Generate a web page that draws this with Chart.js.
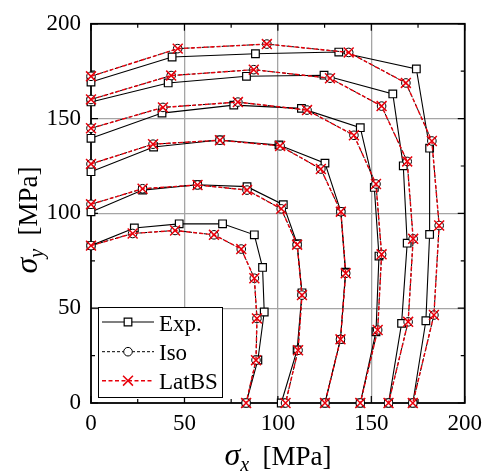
<!DOCTYPE html>
<html>
<head>
<meta charset="utf-8">
<script src="https://cdn.jsdelivr.net/npm/chart.js@4/dist/chart.umd.min.js"></script>
<style>
  html, body { margin: 0; padding: 0; background: #fff; }
  #wrap { width: 489px; height: 474px; }
</style>
</head>
<body>
<div id="wrap"><canvas id="chart" width="489" height="474"></canvas></div>
<script>
// axis ticks (minor every 25, labels every 50)
const xTicks = [0, 25, 50, 75, 100, 125, 150, 175, 200];
const yTicks = [0, 25, 50, 75, 100, 125, 150, 175, 200];
const tickLabels = ['0', '50', '100', '150', '200'];
const seriesNames = ['Exp.', 'Iso', 'LatBS'];

// six yield contours, each as [sigma_x, sigma_y] pairs (MPa)
const expData = [
  [[0, 83], [23.2, 92.3], [47.2, 94.5], [70.4, 94.5], [87.4, 88.7], [91.8, 71.5], [92.7, 48], [89.3, 22.7], [83, 0]],
  [[0, 100.8], [27.6, 112.3], [57, 115.1], [83.5, 114.1], [102.9, 104.6], [110.3, 84], [112.9, 58.1], [110.3, 28], [101.8, 0]],
  [[0, 122], [33.5, 135], [69, 138.7], [100.6, 136.1], [125.2, 126.5], [133.7, 100.9], [136.2, 69], [133.5, 33.6], [125.2, 0]],
  [[0, 139.6], [38, 152.9], [76.4, 157.1], [112.6, 155.4], [144.1, 145.2], [151.6, 113.7], [154.1, 77.5], [152.5, 37.6], [144.1, 0]],
  [[0, 158.8], [41.3, 168.8], [83.2, 172.3], [124.7, 172.9], [161.5, 163], [167.1, 125.1], [169.2, 84.3], [166.2, 42], [159.2, 0]],
  [[0, 169.3], [43.4, 182.5], [88, 184.2], [132.6, 185.1], [174.1, 176.2], [181.2, 134.4], [181.2, 88.9], [179.2, 43.4], [172.2, 0]]
];
const isoData = [
  [[0, 83], [22.3, 89.4], [45, 91], [65.8, 88.7], [80.4, 81.2], [87.4, 65.8], [88.8, 44.6], [88.3, 22.6], [83, 0]],
  [[0, 104.8], [27.6, 113], [57, 115], [83.5, 112.3], [101.8, 102.4], [110.3, 83.5], [112.9, 56.9], [110.8, 27.8], [104.1, 0]],
  [[0, 126.1], [33.2, 136.5], [69, 138.6], [101.2, 135.6], [123, 123.4], [133.7, 100.9], [136.3, 68.4], [133.5, 33.6], [125.2, 0]],
  [[0, 144.9], [38.5, 155.9], [78.6, 158.7], [115.6, 154.5], [140.7, 141.2], [152.5, 115.5], [155.5, 78.4], [153.4, 38.5], [144.1, 0]],
  [[0, 160.1], [42.9, 172.7], [87.1, 175.8], [127.9, 171.3], [155.5, 156.6], [169.2, 127.4], [172.4, 86.6], [169.7, 42.8], [159.2, 0]],
  [[0, 172.3], [46.4, 186.9], [94.1, 189.3], [137.9, 184.9], [168.5, 168.8], [182.4, 138.2], [186.3, 93.6], [183.5, 46.4], [172.2, 0]]
];
const latData = [
  [[0, 83], [22.3, 89.4], [45, 91], [65.8, 88.7], [80.4, 81.2], [87.4, 65.8], [88.8, 44.6], [88.3, 22.6], [83, 0]],
  [[0, 104.8], [27.6, 113], [57, 115], [83.5, 112.3], [101.8, 102.4], [110.3, 83.5], [112.9, 56.9], [110.8, 27.8], [104.1, 0]],
  [[0, 126.1], [33.2, 136.5], [69, 138.6], [101.2, 135.6], [123, 123.4], [133.7, 100.9], [136.3, 68.4], [133.5, 33.6], [125.2, 0]],
  [[0, 144.9], [38.5, 155.9], [78.6, 158.7], [115.6, 154.5], [140.7, 141.2], [152.5, 115.5], [155.5, 78.4], [153.4, 38.5], [144.1, 0]],
  [[0, 160.1], [42.9, 172.7], [87.1, 175.8], [127.9, 171.3], [155.5, 156.6], [169.2, 127.4], [172.4, 86.6], [169.7, 42.8], [159.2, 0]],
  [[0, 172.3], [46.4, 186.9], [94.1, 189.3], [137.9, 184.9], [168.5, 168.8], [182.4, 138.2], [186.3, 93.6], [183.5, 46.4], [172.2, 0]]
];

const FONT = '"Liberation Serif", "Times New Roman", serif';
const RED = '#e8000b';

const styles = [
  { color: '#000', dash: [], width: 1.1, point: 'rect', radius: 5.4, fill: '#fff', pw: 1.2 },
  { color: '#000', dash: [3, 2], width: 1, point: 'circle', radius: 4.3, fill: '#fff', pw: 1 },
  { color: RED, dash: [4, 2.5], width: 1.4, point: 'crossRot', radius: 7, fill: RED, pw: 1.5 }
];

const datasets = [];
[expData, isoData, latData].forEach((series, s) => {
  const st = styles[s];
  series.forEach(curve => {
    datasets.push({
      label: seriesNames[s],
      data: curve.map(([x, y]) => ({ x, y })),
      showLine: true,
      borderColor: st.color,
      borderDash: st.dash,
      borderWidth: st.width,
      pointStyle: st.point,
      pointRadius: st.radius,
      pointBackgroundColor: st.fill,
      pointBorderColor: st.color,
      pointBorderWidth: st.pw,
      order: 2 - s,
      clip: false
    });
  });
});

function gridColor(ctx) {
  const v = ctx.tick && ctx.tick.value;
  return (v % 50 === 0 && v > 0 && v < 200) ? 'rgb(165,165,165)' : 'rgba(0,0,0,0)';
}
function tickLabel(v) {
  return tickLabels.includes(String(v)) ? String(v) : '';
}

// box, inward ticks on all four sides
const frame = {
  id: 'frame',
  beforeDatasetsDraw(chart) {
    const { ctx, chartArea: a, scales: { x, y } } = chart;
    ctx.save();
    ctx.strokeStyle = '#000';
    ctx.lineWidth = 1.2;
    ctx.beginPath();
    xTicks.forEach(v => {
      const len = v % 50 === 0 ? 7 : 4;
      const px = x.getPixelForValue(v);
      ctx.moveTo(px, a.bottom); ctx.lineTo(px, a.bottom - len);
      ctx.moveTo(px, a.top); ctx.lineTo(px, a.top + len);
    });
    yTicks.forEach(v => {
      const len = v % 50 === 0 ? 7 : 4;
      const py = y.getPixelForValue(v);
      ctx.moveTo(a.left, py); ctx.lineTo(a.left + len, py);
      ctx.moveTo(a.right, py); ctx.lineTo(a.right - len, py);
    });
    ctx.stroke();
    ctx.lineWidth = 1.8;
    ctx.strokeRect(a.left, a.top, a.right - a.left, a.bottom - a.top);
    ctx.restore();
  }
};

function drawMarker(ctx, st, x, y) {
  ctx.save();
  ctx.setLineDash([]);
  ctx.lineWidth = st.pw;
  ctx.strokeStyle = st.color;
  ctx.fillStyle = st.fill;
  ctx.beginPath();
  if (st.point === 'rect') {
    const h = st.radius * Math.SQRT1_2;
    ctx.rect(x - h, y - h, 2 * h, 2 * h);
    ctx.fill(); ctx.stroke();
  } else if (st.point === 'circle') {
    ctx.arc(x, y, st.radius, 0, Math.PI * 2);
    ctx.fill(); ctx.stroke();
  } else {
    const h = st.radius * Math.SQRT1_2;
    ctx.moveTo(x - h, y - h); ctx.lineTo(x + h, y + h);
    ctx.moveTo(x - h, y + h); ctx.lineTo(x + h, y - h);
    ctx.stroke();
  }
  ctx.restore();
}

// legend box in the lower left corner
const legendBox = {
  id: 'legendBox',
  afterDatasetsDraw(chart) {
    const { ctx, chartArea: a } = chart;
    const left = a.left + 7, top = a.bottom - 96, w = 124, h = 90;
    ctx.save();
    ctx.fillStyle = '#fff';
    ctx.fillRect(left, top, w, h);
    ctx.strokeStyle = '#000';
    ctx.lineWidth = 1;
    ctx.strokeRect(left + 0.5, top + 0.5, w, h);
    const rows = [15, 44.7, 73.7];
    seriesNames.forEach((name, i) => {
      const st = styles[i];
      const ry = top + rows[i];
      ctx.save();
      ctx.strokeStyle = st.color;
      ctx.lineWidth = st.width;
      ctx.setLineDash(st.dash);
      ctx.beginPath();
      ctx.moveTo(left + 4, ry); ctx.lineTo(left + 56, ry);
      ctx.stroke();
      ctx.restore();
      drawMarker(ctx, st, left + 30, ry);
      ctx.fillStyle = '#000';
      ctx.font = `23px ${FONT}`;
      ctx.textBaseline = 'alphabetic';
      ctx.textAlign = 'left';
      ctx.fillText(name, left + 61, ry + 8.5);
    });
    ctx.restore();
  }
};

// axis titles with subscripts
function drawTitle(ctx, sub) {
  const parts = [
    { t: '\u03c3', f: `italic 32px ${FONT}`, dy: 0 },
    { t: sub, f: `italic 20px ${FONT}`, dy: 6 },
    { t: '  [MPa]', f: `27px ${FONT}`, dy: 0 }
  ];
  let total = 0;
  parts.forEach(p => { ctx.font = p.f; p.w = ctx.measureText(p.t).width; total += p.w; });
  let x = -total / 2;
  parts.forEach(p => {
    ctx.font = p.f;
    ctx.fillText(p.t, x, p.dy);
    x += p.w;
  });
}
const axisTitles = {
  id: 'axisTitles',
  afterDraw(chart) {
    const { ctx } = chart;
    ctx.save();
    ctx.fillStyle = '#000';
    ctx.textBaseline = 'alphabetic';
    ctx.textAlign = 'left';
    ctx.save();
    ctx.translate(278, 465);
    drawTitle(ctx, 'x');
    ctx.restore();
    ctx.save();
    ctx.translate(37, 220);
    ctx.rotate(-Math.PI / 2);
    drawTitle(ctx, 'y');
    ctx.restore();
    ctx.restore();
  }
};

new Chart(document.getElementById('chart'), {
  type: 'scatter',
  data: { datasets },
  plugins: [frame, legendBox, axisTitles],
  options: {
    responsive: false,
    animation: false,
    events: [],
    layout: { padding: { left: 0, top: 22, right: 19, bottom: 0 } },
    plugins: { legend: { display: false }, tooltip: { enabled: false } },
    scales: {
      x: {
        type: 'linear', min: 0, max: 200,
        afterBuildTicks: s => { s.ticks = xTicks.map(v => ({ value: v })); },
        ticks: { callback: tickLabel, autoSkip: false, maxRotation: 0, padding: 7,
                 color: '#000', font: { family: FONT, size: 23 } },
        grid: { color: gridColor, lineWidth: 1.3, drawTicks: false },
        border: { display: false },
        afterFit: s => { s.height = 71; }
      },
      y: {
        type: 'linear', min: 0, max: 200,
        afterBuildTicks: s => { s.ticks = yTicks.map(v => ({ value: v })); },
        ticks: { callback: tickLabel, autoSkip: false, padding: 10,
                 color: '#000', font: { family: FONT, size: 23 } },
        grid: { color: gridColor, lineWidth: 1.3, drawTicks: false },
        border: { display: false },
        afterFit: s => { s.height; s.width = 91; }
      }
    }
  }
});
</script>
</body>
</html>
